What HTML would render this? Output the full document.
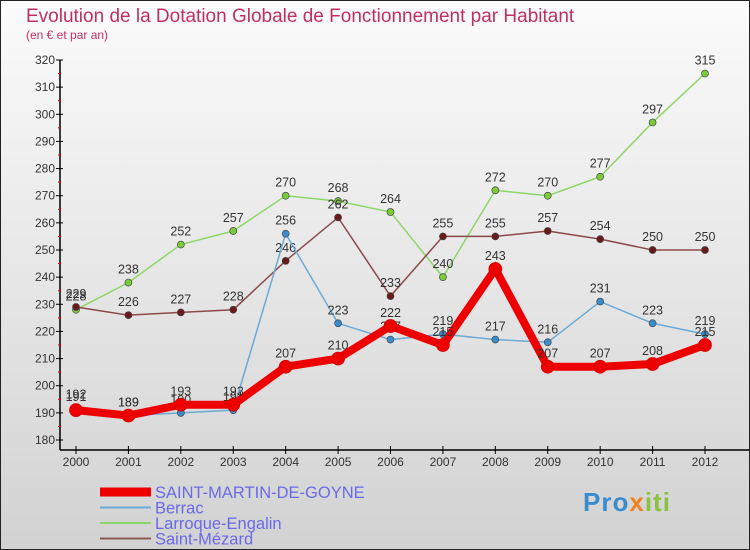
<!DOCTYPE html>
<html><head><meta charset="utf-8"><style>
body{margin:0;width:750px;height:550px;overflow:hidden}
svg{display:block;font-family:"Liberation Sans",sans-serif}
</style></head><body>
<svg width="750" height="550">
<defs><linearGradient id="bg" x1="0" y1="0" x2="0" y2="1"><stop offset="0" stop-color="#fbfbfb"/><stop offset="1" stop-color="#d2d2d2"/></linearGradient></defs>
<rect x="0.5" y="0.5" width="749" height="549" fill="url(#bg)" stroke="#222"/>
<text x="26" y="22" font-size="19" fill="#c0305e">Evolution de la Dotation Globale de Fonctionnement par Habitant</text>
<text x="26" y="39" font-size="12" fill="#c0305e">(en € et par an)</text>
<g id="axes"></g><g id="series"></g><g id="legend"></g>
</svg>
<script>
const years=[2000,2001,2002,2003,2004,2005,2006,2007,2008,2009,2010,2011,2012];
const yTicks=[180,190,200,210,220,230,240,250,260,270,280,290,300,310,320];
const saintMartin=[191,189,193,193,207,210,222,215,243,207,207,208,215];
const berrac=[192,189,190,191,256,223,217,219,217,216,231,223,219];
const larroque=[228,238,252,257,270,268,264,240,272,270,277,297,315];
const saintMezard=[229,226,227,228,246,262,233,255,255,257,254,250,250];
const NS='http://www.w3.org/2000/svg';
const xs=i=>76+i*(705-76)/(years.length-1);
const ys=v=>440-(v-180)*(380/140);
function mk(t,a,p){const e=document.createElementNS(NS,t);for(const k in a)e.setAttribute(k,a[k]);p.appendChild(e);return e;}
const ax=document.getElementById('axes');
let l=mk('line',{x1:60,y1:60,x2:60,y2:450,stroke:'#000','stroke-width':1.5},ax);


l=mk('line',{x1:60,y1:450,x2:750,y2:450,stroke:'#000','stroke-width':1.5},ax);


yTicks.forEach((v,i)=>{
 mk('line',{x1:56,y1:ys(v),x2:63,y2:ys(v),stroke:'#000'},ax);
 if(i<yTicks.length-1)mk('line',{x1:58,y1:ys(v+5),x2:61,y2:ys(v+5),stroke:'#e00'},ax);
 const t=mk('text',{x:55,y:ys(v)+4,'font-size':12,fill:'#333','text-anchor':'end'},ax);t.textContent=v;
 
 
});
years.forEach((y,i)=>{
 mk('line',{x1:xs(i),y1:446,x2:xs(i),y2:454,stroke:'#000'},ax);
 const t=mk('text',{x:xs(i),y:466,'font-size':12,fill:'#333','text-anchor':'middle'},ax);t.textContent=y;
 
 
});
const sg=document.getElementById('series');
const series=[
 {n:'larroque-engalin',d:larroque,c:'#8fd66a',f:'#7ccc3a',w:1.5,r:3.5},
 {n:'saint-mezard',d:saintMezard,c:'#8b4a4a',f:'#6a1a1a',w:1.5,r:3.5},
 {n:'berrac',d:berrac,c:'#6aaad6',f:'#3a8ccc',w:1.5,r:3.5},
 {n:'saint-martin-de-goyne',d:saintMartin,c:'#ee0000',f:'#ee0000',w:8,r:6.5}
];
series.forEach(s=>{
 const g=mk('g',{},sg);
 
 
 const p=mk('polyline',{points:s.d.map((v,i)=>xs(i)+','+ys(v)).join(' '),fill:'none',stroke:s.c,'stroke-width':s.w},g);
 
 
 s.d.forEach((v,i)=>{
  const c=mk('circle',{cx:xs(i),cy:ys(v),r:s.r,fill:s.f,stroke:s.w>2?'#c00':'#444','stroke-width':0.7},g);
  
  
  const t=mk('text',{x:xs(i),y:ys(v)-9,'font-size':12.5,fill:'#333','text-anchor':'middle'},g);t.textContent=v;
  
  
 });
});
const lg=document.getElementById('legend');
const leg=[['SAINT-MARTIN-DE-GOYNE','#ee0000',9],['Berrac','#6aaad6',2],['Larroque-Engalin','#8fd66a',2],['Saint-Mézard','#8b5a5a',2]];
leg.forEach((e,i)=>{
 const y=492+i*15.5;
 const g=mk('g',{},lg);
 
 
 mk('line',{x1:100,y1:y,x2:151,y2:y,stroke:e[1],'stroke-width':e[2]},g);
 const t=mk('text',{x:155,y:y+6,'font-size':16.5,fill:'#6a6ae8'},g);t.textContent=e[0];
});
</script>
<div style="position:absolute;left:583px;top:487px;font:bold 26px 'Liberation Sans',sans-serif;letter-spacing:1px"><span style="color:#3a8ccc">Pro</span><span style="color:#f08020">x</span><span style="color:#8cc040">iti</span></div>
</body></html>
